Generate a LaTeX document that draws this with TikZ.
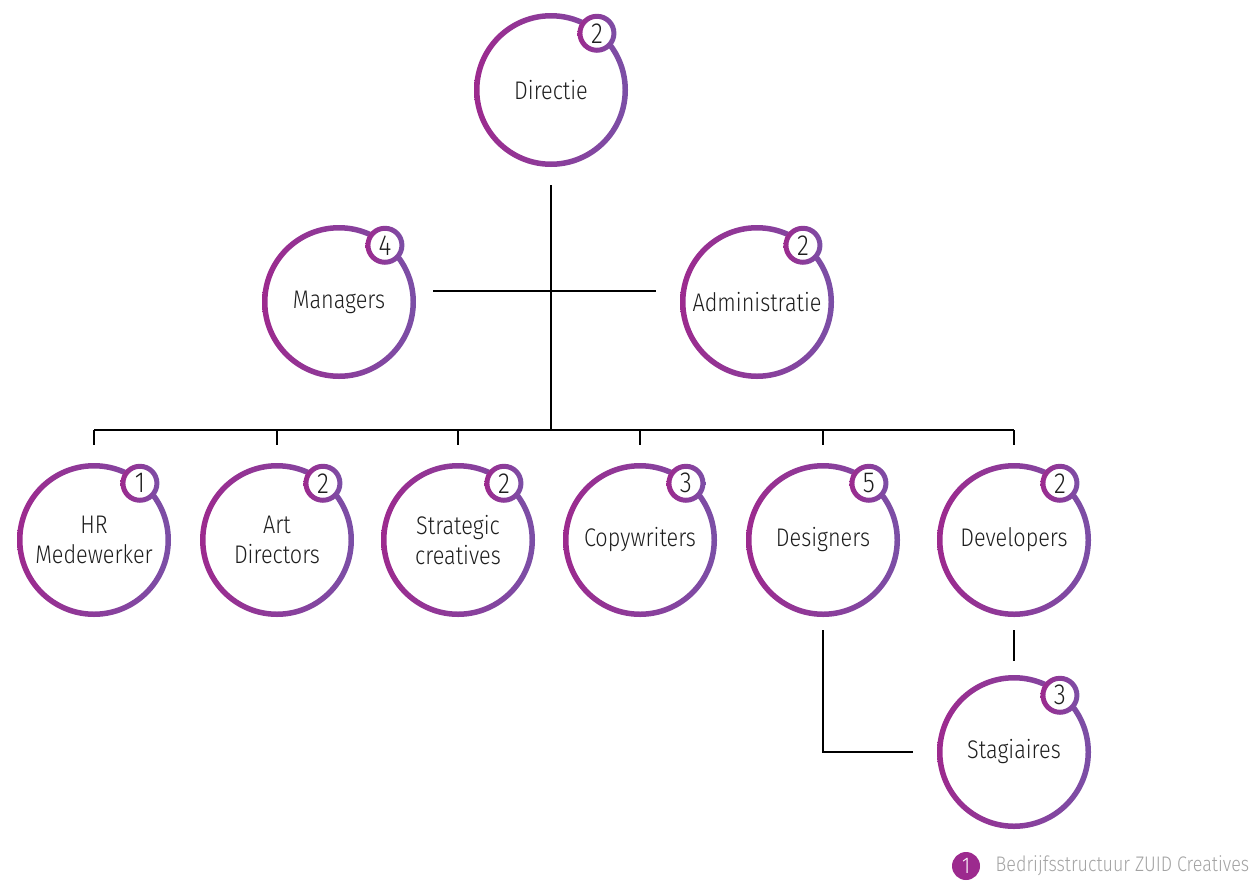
\documentclass[tikz,border=0pt]{standalone}
\usepackage{fontspec}
\setmainfont{Fira Sans}[UprightFont={* Light}, FakeStretch=0.85]
\usetikzlibrary{positioning}
\usetikzlibrary{calc}
\definecolor{zuidmag}{HTML}{9C2A8E}
\definecolor{zuidpur}{HTML}{7B4FA6}
\definecolor{zuidtext}{HTML}{1E1E1E}
\definecolor{zuidgrey}{HTML}{A3A3A3}
\tikzset{
  dept/.style={circle, minimum size=3.08cm, inner sep=0pt, align=center, text=zuidtext, font=\fontsize{14.5}{17}\selectfont},
  count/.style={circle, minimum size=0.76cm, inner sep=0pt, fill=white, text=zuidtext, font=\fontsize{16.5}{18}\selectfont},
  ring/.style={left color=zuidmag, right color=zuidpur, even odd rule},
  link/.style={line width=1.1pt, black}
}
\begin{document}
\begin{tikzpicture}[x=0.02cm, y=0.02cm]
\useasboundingbox (0,0) rectangle (1253,-886);
\node[dept] (dir) at (551,-90) {Directie};
\node[dept] (man) at (339,-302) {Managers};
\node[dept] (adm) at (757,-302) {Administratie};
\node[dept] (hr) at (94,-540) {HR\\Medewerker};
\node[dept] (art) at (277,-540) {Art\\Directors};
\node[dept] (strat) at (458,-540) {Strategic\\creatives};
\node[dept] (copy) at (640,-540) {Copywriters};
\node[dept] (des) at (823,-540) {Designers};
\node[dept] (dev) at (1014,-540) {Developers};
\node[dept] (stag) at (1014,-752) {Stagiaires};
\coordinate (bar) at (551,-430);
\draw[link] ($(dir.south)+(0,-18)$) -- (bar);
\draw[link] ($(man.east)+(17,11)$) -- ($(adm.west)+(-24,11)$);
\draw[link] (hr |- bar) -- (dev |- bar);
\foreach \n in {hr,art,strat,copy,des,dev}
  \draw[link] (\n |- bar) -- ++(0,-15);
\draw[link] ($(des.south)+(0,-13)$) -- (des |- stag) -- ($(stag.west)+(-24,0)$);
\draw[link] ($(dev.south)+(0,-13)$) -- ($(stag.north)+(0,14)$);
\foreach \n in {dir,man,adm,hr,art,strat,copy,des,dev,stag}
  \shade[ring] (\n.center) circle[radius=77] (\n.center) circle[radius=71.5];
\foreach \n/\k in {dir/2,man/4,adm/2,hr/1,art/2,strat/2,copy/3,des/5,dev/2,stag/3}{
  \node[count] (\n-k) at ($(\n.center)+(51:73)$) {\k};
  \shade[ring] (\n-k.center) circle[radius=19.5] (\n-k.center) circle[radius=14.5];
}
\node[circle, fill=zuidmag, minimum size=0.56cm, inner sep=0pt, text=white, font=\fontsize{13}{14}\selectfont] (leg) at (966,-866) {1};
\node[right=0.3cm of leg, inner sep=0pt, text=zuidgrey, font=\fontsize{12}{14}\selectfont] (legtext) {Bedrijfsstructuur ZUID Creatives};
\end{tikzpicture}
\end{document}
